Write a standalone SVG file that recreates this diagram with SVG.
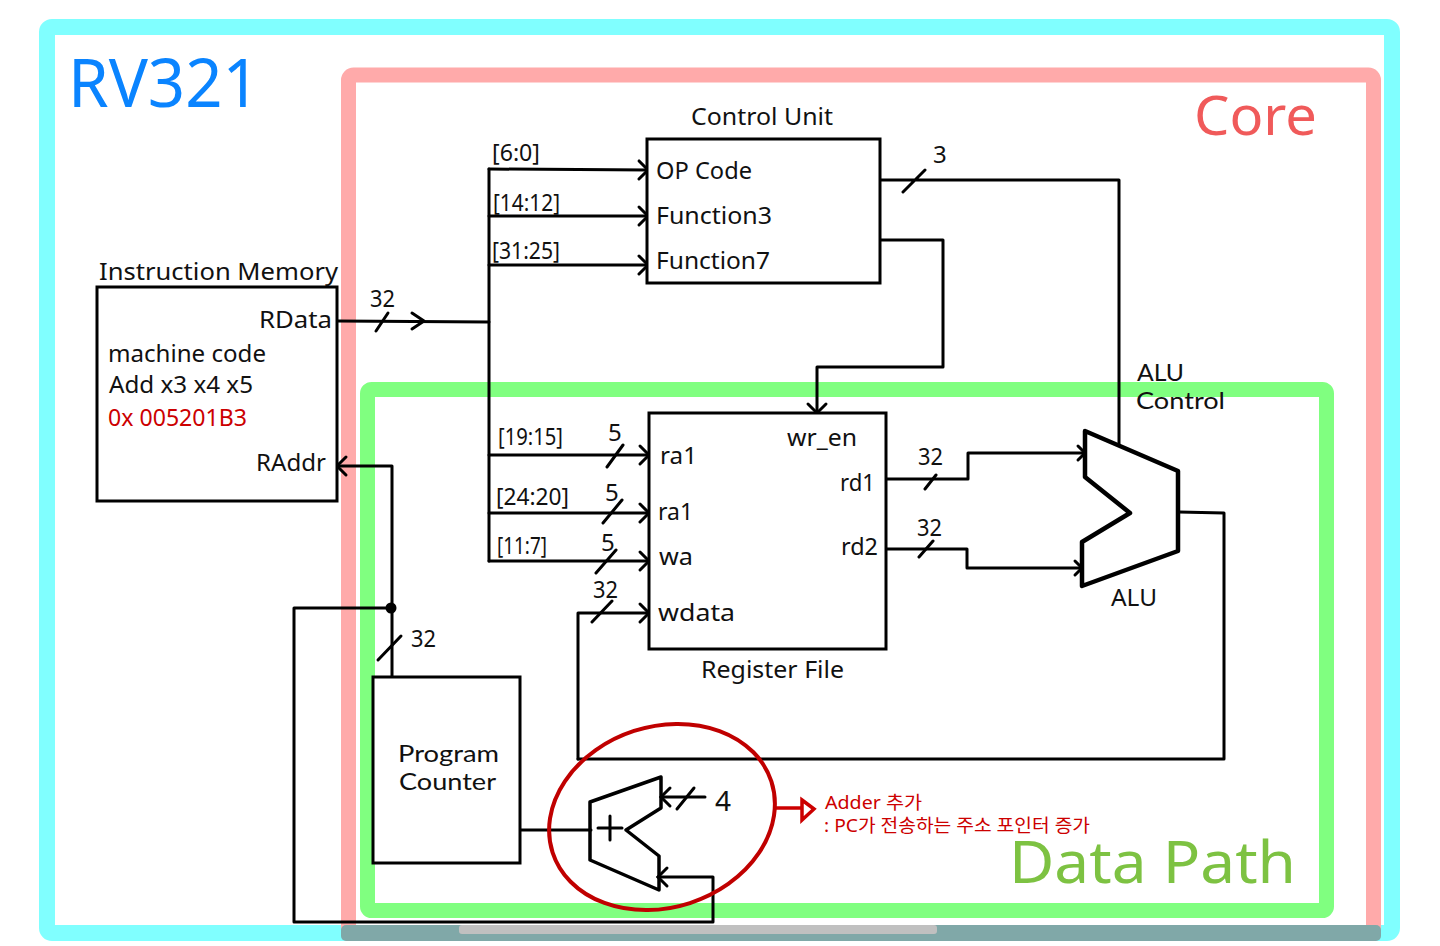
<svg xmlns="http://www.w3.org/2000/svg" width="1440" height="946" viewBox="0 0 1440 946">
<style>
text{font-family:"Noto Sans","Noto Sans CJK KR",sans-serif;fill:#111;font-size:24px}
.tight{font-family:"Lato",sans-serif;font-size:23px}
.b{fill:#fff;stroke:#000;stroke-width:3}
.w{fill:none;stroke:#000;stroke-width:3;stroke-linejoin:round;stroke-linecap:round}
.f{fill:none;stroke-linejoin:round}
.r{fill:#cc0000}
</style>
<defs>
<marker id="a" markerUnits="userSpaceOnUse" markerWidth="16" markerHeight="24" refX="12" refY="12" orient="auto"><path d="M3 3L12 12L3 21" fill="none" stroke="#000" stroke-width="3" stroke-linecap="round"/></marker>
<marker id="s" markerUnits="userSpaceOnUse" markerWidth="16" markerHeight="24" refX="12" refY="12" orient="auto"><path d="M5 5L12 12L5 19" fill="none" stroke="#000" stroke-width="3" stroke-linecap="round"/></marker>
</defs>
<rect width="1440" height="946" fill="#fff"/>
<g id="frame-rv321"><rect class="f" x="47" y="27" width="1345" height="906" rx="5" stroke="#80ffff" stroke-width="16"/><text x="68" y="107" textLength="192" lengthAdjust="spacingAndGlyphs" style="font-size:68px;fill:#0a84ff">RV321</text></g>
<g id="frame-core"><rect class="f" x="348.500" y="75" width="1025" height="858" rx="5" stroke="#ffaaaa" stroke-width="15"/><text x="1194" y="135" textLength="123" lengthAdjust="spacingAndGlyphs" style="font-size:54px;fill:#f05a5a">Core</text></g>
<g id="frame-datapath"><rect class="f" x="367.500" y="389.500" width="959" height="521" rx="4" stroke="#80ff80" stroke-width="15"/><text x="1009" y="883" textLength="287" lengthAdjust="spacingAndGlyphs" style="font-size:58px;fill:#7dc242">Data Path</text></g>
<g id="screen-edge"><rect x="341" y="925" width="1040" height="16" rx="5" fill="#80a8a8"/><rect x="459" y="925" width="478" height="9" rx="3" fill="#c0c0c0"/></g>

<g id="connectors">
<path class="w" d="M489 169V561"/>
<path class="w" d="M338 321L489 322"/>
<path class="w" d="M412 313L424 321L412 329M376 331L388 313"/>
<path class="w" d="M489 169L648 170" marker-end="url(#a)"/>
<path class="w" d="M489 216H648" marker-end="url(#a)"/>
<path class="w" d="M489 265H648" marker-end="url(#a)"/>
<path class="w" d="M489 455H649" marker-end="url(#a)"/>
<path class="w" d="M489 513H649" marker-end="url(#a)"/>
<path class="w" d="M489 561H649" marker-end="url(#a)"/>
<path class="w" d="M578 759V613H649" marker-end="url(#a)"/>
<path class="w" d="M607 467L623 445M603 523L622 500M596 573L616 550M592 622L612 601"/>
<path class="w" d="M881 180H1119V445M903 192L925 170"/>
<path class="w" d="M880 240H943V367H817V413" marker-end="url(#a)"/>
<path class="w" d="M886 479H968V453H1085" marker-end="url(#s)"/>
<path class="w" d="M886 549H967V568H1082" marker-end="url(#s)"/>
<path class="w" d="M925 489L936 475M919 557L933 541"/>
<path class="w" d="M1179 512L1224 513V759H578"/>
<path class="w" d="M392 677V466H337" marker-end="url(#a)"/>
<path class="w" d="M378 660L401 636"/>
<circle cx="391" cy="608" r="5.500"/>
<path class="w" d="M391 608H294V922H713V877H658" marker-end="url(#a)"/>
<path class="w" d="M520 830H591"/>
<path class="w" d="M705 797H661" marker-end="url(#a)"/>
<path class="w" d="M677 809L694 788"/>
<path d="M776 808H802" fill="none" stroke="#cc0000" stroke-width="3.500"/>
<path d="M802 800L814 809L802 820Z" fill="none" stroke="#cc0000" stroke-width="3.500"/>
<ellipse cx="662" cy="817" rx="115" ry="90.500" transform="rotate(-18 662 817)" fill="none" stroke="#c00000" stroke-width="4"/>
</g>

<g id="instruction-memory"><rect class="b" x="97" y="287" width="240" height="214"/>
<text x="99" y="280" textLength="239" lengthAdjust="spacingAndGlyphs">Instruction Memory</text>
<text x="259" y="328" textLength="73" lengthAdjust="spacingAndGlyphs">RData</text>
<text x="108" y="362" textLength="158" lengthAdjust="spacingAndGlyphs">machine code</text>
<text x="109" y="393" textLength="144" lengthAdjust="spacingAndGlyphs">Add x3 x4 x5</text>
<text x="108" y="426" textLength="139" lengthAdjust="spacingAndGlyphs" class="r">0x 005201B3</text>
<text x="256" y="471" textLength="70" lengthAdjust="spacingAndGlyphs">RAddr</text></g>

<g id="control-unit"><rect class="b" x="647" y="139" width="233" height="144"/>
<text x="691" y="125" textLength="142" lengthAdjust="spacingAndGlyphs">Control Unit</text>
<text x="656" y="179" textLength="96" lengthAdjust="spacingAndGlyphs">OP Code</text>
<text x="656" y="224" textLength="116" lengthAdjust="spacingAndGlyphs">Function3</text>
<text x="656" y="269" textLength="114" lengthAdjust="spacingAndGlyphs">Function7</text></g>

<g id="register-file"><rect class="b" x="649" y="413" width="237" height="236"/>
<text x="701" y="678" textLength="143" lengthAdjust="spacingAndGlyphs">Register File</text>
<text x="660" y="464" textLength="37" lengthAdjust="spacingAndGlyphs">ra1</text>
<text x="658" y="520" textLength="35" lengthAdjust="spacingAndGlyphs">ra1</text>
<text x="659" y="565" textLength="34" lengthAdjust="spacingAndGlyphs">wa</text>
<text x="658" y="621" textLength="77" lengthAdjust="spacingAndGlyphs">wdata</text>
<text x="787" y="446" textLength="70" lengthAdjust="spacingAndGlyphs">wr_en</text>
<text x="840" y="491" textLength="35" lengthAdjust="spacingAndGlyphs">rd1</text>
<text x="841" y="555" textLength="37" lengthAdjust="spacingAndGlyphs">rd2</text></g>

<g id="alu"><path fill="#fff" stroke="#000" stroke-width="4.500" stroke-linejoin="round" d="M1085 431L1178 471V551L1082 586V542L1130 513L1085 477Z"/>
<text x="1111" y="606" textLength="46" lengthAdjust="spacingAndGlyphs">ALU</text>
<text x="1137" y="381" textLength="47" lengthAdjust="spacingAndGlyphs" class="tight">ALU</text>
<text x="1136" y="409" textLength="89" lengthAdjust="spacingAndGlyphs" class="tight">Control</text></g>

<g id="program-counter"><rect class="b" x="373" y="677" width="147" height="186"/>
<text x="398" y="762" textLength="101" lengthAdjust="spacingAndGlyphs" class="tight">Program</text>
<text x="399" y="790" textLength="97" lengthAdjust="spacingAndGlyphs" class="tight">Counter</text></g>

<g id="adder"><path fill="none" stroke="#000" stroke-width="3.500" stroke-linejoin="round" d="M590 802L661 777V808L626 830L659 856V890L590 860Z"/>
<path class="w" d="M598 828H622M610 816V840"/></g>

<g id="labels">
<text x="370" y="307" textLength="25" lengthAdjust="spacingAndGlyphs">32</text>
<text x="492" y="161" textLength="48" lengthAdjust="spacingAndGlyphs">[6:0]</text>
<text x="493" y="211" textLength="67" lengthAdjust="spacingAndGlyphs">[14:12]</text>
<text x="492" y="259" textLength="68" lengthAdjust="spacingAndGlyphs">[31:25]</text>
<text x="498" y="445" textLength="65" lengthAdjust="spacingAndGlyphs">[19:15]</text>
<text x="496" y="505" textLength="73" lengthAdjust="spacingAndGlyphs">[24:20]</text>
<text x="497" y="554" textLength="50" lengthAdjust="spacingAndGlyphs">[11:7]</text>
<text x="608" y="441">5</text><text x="605" y="501">5</text><text x="601" y="551">5</text>
<text x="593" y="598" textLength="25" lengthAdjust="spacingAndGlyphs">32</text>
<text x="933" y="163">3</text>
<text x="918" y="465" textLength="25" lengthAdjust="spacingAndGlyphs">32</text>
<text x="917" y="536" textLength="25" lengthAdjust="spacingAndGlyphs">32</text>
<text x="411" y="647" textLength="25" lengthAdjust="spacingAndGlyphs">32</text>
<text x="715" y="811" style="font-size:28px">4</text>
<text x="825" y="809" textLength="97" lengthAdjust="spacingAndGlyphs" class="r" style="font-size:18px">Adder 추가</text>
<text x="824" y="832" textLength="266" lengthAdjust="spacingAndGlyphs" class="r" style="font-size:18px">: PC가 전송하는 주소 포인터 증가</text>
</g>
</svg>
